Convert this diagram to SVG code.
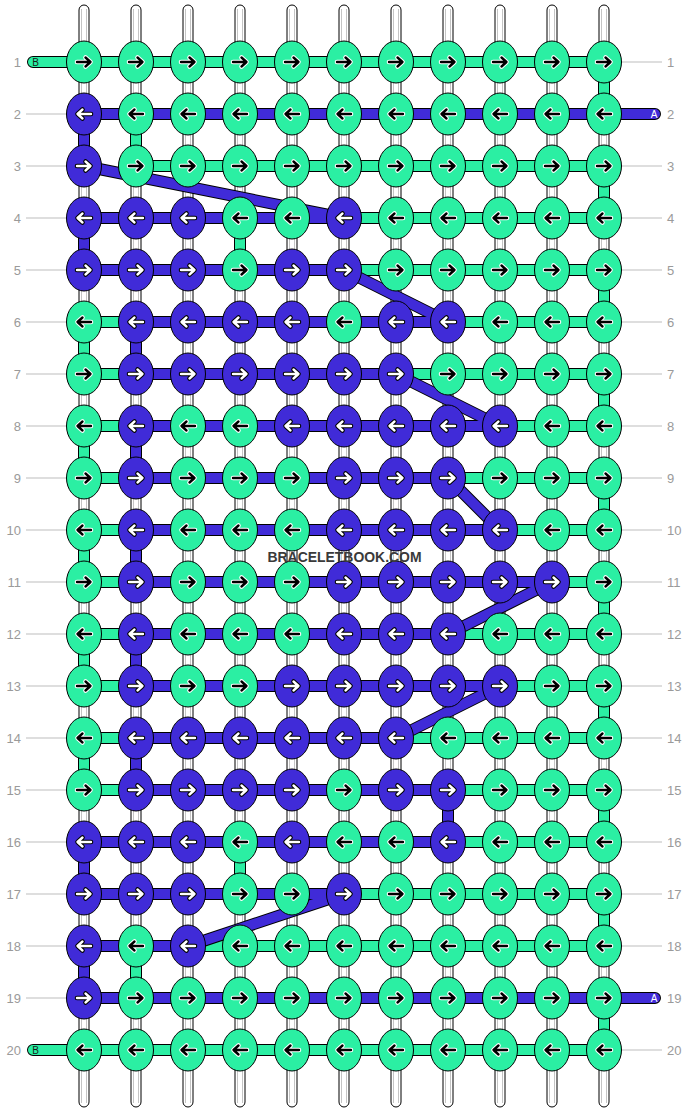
<svg xmlns="http://www.w3.org/2000/svg" xmlns:xlink="http://www.w3.org/1999/xlink" width="688" height="1112" viewBox="0 0 688 1112">
<style>
.str{fill:#fff;stroke:#000;stroke-width:1}
.sin{stroke:#c4c4c4;stroke-width:1}
.num{font-family:"Liberation Sans",Arial,sans-serif;font-size:13px;fill:#9a9a9a}
.gl{stroke:#bdbdbd;stroke-width:1}
.o{fill:none;stroke:#000;stroke-width:12;stroke-linejoin:round;stroke-linecap:round}
.tg{fill:none;stroke:#2BEFA3;stroke-width:10;stroke-linejoin:round;stroke-linecap:round}
.tb{fill:none;stroke:#402BD8;stroke-width:10;stroke-linejoin:round;stroke-linecap:round}
.kg{fill:#2BEFA3;stroke:#000;stroke-width:1}
.kb{fill:#402BD8;stroke:#000;stroke-width:1}
.ah{fill:none;stroke-width:4.6;stroke-linecap:round;stroke-linejoin:round}
.am{fill:none;stroke-width:2.4;stroke-linecap:round;stroke-linejoin:round}
.end{font-family:"Liberation Sans",Arial,sans-serif;font-size:10px;text-anchor:middle}
.wm{font-family:"Liberation Sans",Arial,sans-serif;font-size:15px;font-weight:bold;fill:#3a3a3a;text-anchor:middle}
</style>
<defs>
<path id="ar" d="M-7,0H6M1.5,-4.5L6.5,0L1.5,4.5"/>
<path id="al" d="M7,0H-6M-1.5,-4.5L-6.5,0L-1.5,4.5"/>
<g id="Gr"><ellipse class="kg" rx="17.5" ry="21"/><use href="#ar" class="ah" stroke="#fff"/><use href="#ar" class="am" stroke="#000"/></g>
<g id="Gl"><ellipse class="kg" rx="17.5" ry="21"/><use href="#al" class="ah" stroke="#fff"/><use href="#al" class="am" stroke="#000"/></g>
<g id="Br"><ellipse class="kb" rx="17.5" ry="21"/><use href="#ar" class="ah" stroke="#000"/><use href="#ar" class="am" stroke="#fff"/></g>
<g id="Bl"><ellipse class="kb" rx="17.5" ry="21"/><use href="#al" class="ah" stroke="#000"/><use href="#al" class="am" stroke="#fff"/></g>
<g id="S"><rect class="str" x="-5" y="5" width="10" height="1102" rx="5"/><line class="sin" x1="-2.5" y1="9" x2="-2.5" y2="1103"/><line class="sin" x1="2.5" y1="9" x2="2.5" y2="1103"/></g>
</defs>
<rect width="688" height="1112" fill="#fff"/>
<g id="labels">
<g class="gl">
<line x1="26" y1="114" x2="67" y2="114"/><line x1="26" y1="166" x2="67" y2="166"/><line x1="26" y1="218" x2="67" y2="218"/><line x1="26" y1="270" x2="67" y2="270"/><line x1="26" y1="322" x2="67" y2="322"/><line x1="26" y1="374" x2="67" y2="374"/><line x1="26" y1="426" x2="67" y2="426"/><line x1="26" y1="478" x2="67" y2="478"/><line x1="26" y1="530" x2="67" y2="530"/><line x1="26" y1="582" x2="67" y2="582"/><line x1="26" y1="634" x2="67" y2="634"/><line x1="26" y1="686" x2="67" y2="686"/><line x1="26" y1="738" x2="67" y2="738"/><line x1="26" y1="790" x2="67" y2="790"/><line x1="26" y1="842" x2="67" y2="842"/><line x1="26" y1="894" x2="67" y2="894"/><line x1="26" y1="946" x2="67" y2="946"/><line x1="26" y1="998" x2="67" y2="998"/>
<line x1="621" y1="62" x2="662" y2="62"/><line x1="621" y1="166" x2="662" y2="166"/><line x1="621" y1="218" x2="662" y2="218"/><line x1="621" y1="270" x2="662" y2="270"/><line x1="621" y1="322" x2="662" y2="322"/><line x1="621" y1="374" x2="662" y2="374"/><line x1="621" y1="426" x2="662" y2="426"/><line x1="621" y1="478" x2="662" y2="478"/><line x1="621" y1="530" x2="662" y2="530"/><line x1="621" y1="582" x2="662" y2="582"/><line x1="621" y1="634" x2="662" y2="634"/><line x1="621" y1="686" x2="662" y2="686"/><line x1="621" y1="738" x2="662" y2="738"/><line x1="621" y1="790" x2="662" y2="790"/><line x1="621" y1="842" x2="662" y2="842"/><line x1="621" y1="894" x2="662" y2="894"/><line x1="621" y1="946" x2="662" y2="946"/><line x1="621" y1="1050" x2="662" y2="1050"/>
</g>
<g class="num" text-anchor="end">
<text x="21" y="67">1</text><text x="21" y="119">2</text><text x="21" y="171">3</text><text x="21" y="223">4</text><text x="21" y="275">5</text><text x="21" y="327">6</text><text x="21" y="379">7</text><text x="21" y="431">8</text><text x="21" y="483">9</text><text x="21" y="535">10</text><text x="21" y="587">11</text><text x="21" y="639">12</text><text x="21" y="691">13</text><text x="21" y="743">14</text><text x="21" y="795">15</text><text x="21" y="847">16</text><text x="21" y="899">17</text><text x="21" y="951">18</text><text x="21" y="1003">19</text><text x="21" y="1055">20</text>
</g>
<g class="num">
<text x="667" y="67">1</text><text x="667" y="119">2</text><text x="667" y="171">3</text><text x="667" y="223">4</text><text x="667" y="275">5</text><text x="667" y="327">6</text><text x="667" y="379">7</text><text x="667" y="431">8</text><text x="667" y="483">9</text><text x="667" y="535">10</text><text x="667" y="587">11</text><text x="667" y="639">12</text><text x="667" y="691">13</text><text x="667" y="743">14</text><text x="667" y="795">15</text><text x="667" y="847">16</text><text x="667" y="899">17</text><text x="667" y="951">18</text><text x="667" y="1003">19</text><text x="667" y="1055">20</text>
</g>
</g>
<g id="strings">
<use href="#S" x="84"/><use href="#S" x="136"/><use href="#S" x="188"/><use href="#S" x="240"/><use href="#S" x="292"/><use href="#S" x="344"/><use href="#S" x="396"/><use href="#S" x="448"/><use href="#S" x="500"/><use href="#S" x="552"/><use href="#S" x="604"/>
</g>
<g id="connectors">
<polyline id="threadB-outline" class="o" points="33,62 604,62 604,114 136,114 136,166 604,166 604,218 240,218 240,270 604,270 604,322 84,322 84,374 604,374 604,426 84,426 84,478 604,478 604,530 84,530 84,582 604,582 604,634 84,634 84,686 604,686 604,738 84,738 84,790 604,790 604,842 240,842 240,894 604,894 604,946 136,946 136,998 604,998 604,1050 33,1050"/>
<polyline id="threadB" class="tg" points="33,62 604,62 604,114 136,114 136,166 604,166 604,218 240,218 240,270 604,270 604,322 84,322 84,374 604,374 604,426 84,426 84,478 604,478 604,530 84,530 84,582 604,582 604,634 84,634 84,686 604,686 604,738 84,738 84,790 604,790 604,842 240,842 240,894 604,894 604,946 136,946 136,998 604,998 604,1050 33,1050"/>
<polyline id="threadA-outline" class="o" points="655,114 84,114 84,166 344,218 84,218 84,270 344,270 448,322 136,322 136,374 396,374 500,426 136,426 136,478 448,478 500,530 136,530 136,582 552,582 448,634 136,634 136,686 500,686 396,738 136,738 136,790 448,790 448,842 84,842 84,894 344,894 188,946 84,946 84,998 655,998"/>
<polyline id="threadA" class="tb" points="655,114 84,114 84,166 344,218 84,218 84,270 344,270 448,322 136,322 136,374 396,374 500,426 136,426 136,478 448,478 500,530 136,530 136,582 552,582 448,634 136,634 136,686 500,686 396,738 136,738 136,790 448,790 448,842 84,842 84,894 344,894 188,946 84,946 84,998 655,998"/>
<text class="end" x="35.5" y="65.5" fill="#1a1a1a">B</text>
<text class="end" x="35.5" y="1053.5" fill="#1a1a1a">B</text>
<text class="end" x="654" y="117.5" fill="#fff">A</text>
<text class="end" x="654" y="1001.5" fill="#fff">A</text>
</g>
<g id="knots">
<g id="k1_1"><use href="#Gr" x="84" y="62"/></g><g id="k1_2"><use href="#Gr" x="136" y="62"/></g><g id="k1_3"><use href="#Gr" x="188" y="62"/></g><g id="k1_4"><use href="#Gr" x="240" y="62"/></g><g id="k1_5"><use href="#Gr" x="292" y="62"/></g><g id="k1_6"><use href="#Gr" x="344" y="62"/></g><g id="k1_7"><use href="#Gr" x="396" y="62"/></g><g id="k1_8"><use href="#Gr" x="448" y="62"/></g><g id="k1_9"><use href="#Gr" x="500" y="62"/></g><g id="k1_10"><use href="#Gr" x="552" y="62"/></g><g id="k1_11"><use href="#Gr" x="604" y="62"/></g>
<g id="k2_1"><use href="#Bl" x="84" y="114"/></g><g id="k2_2"><use href="#Gl" x="136" y="114"/></g><g id="k2_3"><use href="#Gl" x="188" y="114"/></g><g id="k2_4"><use href="#Gl" x="240" y="114"/></g><g id="k2_5"><use href="#Gl" x="292" y="114"/></g><g id="k2_6"><use href="#Gl" x="344" y="114"/></g><g id="k2_7"><use href="#Gl" x="396" y="114"/></g><g id="k2_8"><use href="#Gl" x="448" y="114"/></g><g id="k2_9"><use href="#Gl" x="500" y="114"/></g><g id="k2_10"><use href="#Gl" x="552" y="114"/></g><g id="k2_11"><use href="#Gl" x="604" y="114"/></g>
<g id="k3_1"><use href="#Br" x="84" y="166"/></g><g id="k3_2"><use href="#Gr" x="136" y="166"/></g><g id="k3_3"><use href="#Gr" x="188" y="166"/></g><g id="k3_4"><use href="#Gr" x="240" y="166"/></g><g id="k3_5"><use href="#Gr" x="292" y="166"/></g><g id="k3_6"><use href="#Gr" x="344" y="166"/></g><g id="k3_7"><use href="#Gr" x="396" y="166"/></g><g id="k3_8"><use href="#Gr" x="448" y="166"/></g><g id="k3_9"><use href="#Gr" x="500" y="166"/></g><g id="k3_10"><use href="#Gr" x="552" y="166"/></g><g id="k3_11"><use href="#Gr" x="604" y="166"/></g>
<g id="k4_1"><use href="#Bl" x="84" y="218"/></g><g id="k4_2"><use href="#Bl" x="136" y="218"/></g><g id="k4_3"><use href="#Bl" x="188" y="218"/></g><g id="k4_4"><use href="#Gl" x="240" y="218"/></g><g id="k4_5"><use href="#Gl" x="292" y="218"/></g><g id="k4_6"><use href="#Bl" x="344" y="218"/></g><g id="k4_7"><use href="#Gl" x="396" y="218"/></g><g id="k4_8"><use href="#Gl" x="448" y="218"/></g><g id="k4_9"><use href="#Gl" x="500" y="218"/></g><g id="k4_10"><use href="#Gl" x="552" y="218"/></g><g id="k4_11"><use href="#Gl" x="604" y="218"/></g>
<g id="k5_1"><use href="#Br" x="84" y="270"/></g><g id="k5_2"><use href="#Br" x="136" y="270"/></g><g id="k5_3"><use href="#Br" x="188" y="270"/></g><g id="k5_4"><use href="#Gr" x="240" y="270"/></g><g id="k5_5"><use href="#Br" x="292" y="270"/></g><g id="k5_6"><use href="#Br" x="344" y="270"/></g><g id="k5_7"><use href="#Gr" x="396" y="270"/></g><g id="k5_8"><use href="#Gr" x="448" y="270"/></g><g id="k5_9"><use href="#Gr" x="500" y="270"/></g><g id="k5_10"><use href="#Gr" x="552" y="270"/></g><g id="k5_11"><use href="#Gr" x="604" y="270"/></g>
<g id="k6_1"><use href="#Gl" x="84" y="322"/></g><g id="k6_2"><use href="#Bl" x="136" y="322"/></g><g id="k6_3"><use href="#Bl" x="188" y="322"/></g><g id="k6_4"><use href="#Bl" x="240" y="322"/></g><g id="k6_5"><use href="#Bl" x="292" y="322"/></g><g id="k6_6"><use href="#Gl" x="344" y="322"/></g><g id="k6_7"><use href="#Bl" x="396" y="322"/></g><g id="k6_8"><use href="#Bl" x="448" y="322"/></g><g id="k6_9"><use href="#Gl" x="500" y="322"/></g><g id="k6_10"><use href="#Gl" x="552" y="322"/></g><g id="k6_11"><use href="#Gl" x="604" y="322"/></g>
<g id="k7_1"><use href="#Gr" x="84" y="374"/></g><g id="k7_2"><use href="#Br" x="136" y="374"/></g><g id="k7_3"><use href="#Br" x="188" y="374"/></g><g id="k7_4"><use href="#Br" x="240" y="374"/></g><g id="k7_5"><use href="#Br" x="292" y="374"/></g><g id="k7_6"><use href="#Br" x="344" y="374"/></g><g id="k7_7"><use href="#Br" x="396" y="374"/></g><g id="k7_8"><use href="#Gr" x="448" y="374"/></g><g id="k7_9"><use href="#Gr" x="500" y="374"/></g><g id="k7_10"><use href="#Gr" x="552" y="374"/></g><g id="k7_11"><use href="#Gr" x="604" y="374"/></g>
<g id="k8_1"><use href="#Gl" x="84" y="426"/></g><g id="k8_2"><use href="#Bl" x="136" y="426"/></g><g id="k8_3"><use href="#Gl" x="188" y="426"/></g><g id="k8_4"><use href="#Gl" x="240" y="426"/></g><g id="k8_5"><use href="#Bl" x="292" y="426"/></g><g id="k8_6"><use href="#Bl" x="344" y="426"/></g><g id="k8_7"><use href="#Bl" x="396" y="426"/></g><g id="k8_8"><use href="#Bl" x="448" y="426"/></g><g id="k8_9"><use href="#Bl" x="500" y="426"/></g><g id="k8_10"><use href="#Gl" x="552" y="426"/></g><g id="k8_11"><use href="#Gl" x="604" y="426"/></g>
<g id="k9_1"><use href="#Gr" x="84" y="478"/></g><g id="k9_2"><use href="#Br" x="136" y="478"/></g><g id="k9_3"><use href="#Gr" x="188" y="478"/></g><g id="k9_4"><use href="#Gr" x="240" y="478"/></g><g id="k9_5"><use href="#Gr" x="292" y="478"/></g><g id="k9_6"><use href="#Br" x="344" y="478"/></g><g id="k9_7"><use href="#Br" x="396" y="478"/></g><g id="k9_8"><use href="#Br" x="448" y="478"/></g><g id="k9_9"><use href="#Gr" x="500" y="478"/></g><g id="k9_10"><use href="#Gr" x="552" y="478"/></g><g id="k9_11"><use href="#Gr" x="604" y="478"/></g>
<g id="k10_1"><use href="#Gl" x="84" y="530"/></g><g id="k10_2"><use href="#Bl" x="136" y="530"/></g><g id="k10_3"><use href="#Gl" x="188" y="530"/></g><g id="k10_4"><use href="#Gl" x="240" y="530"/></g><g id="k10_5"><use href="#Gl" x="292" y="530"/></g><g id="k10_6"><use href="#Bl" x="344" y="530"/></g><g id="k10_7"><use href="#Bl" x="396" y="530"/></g><g id="k10_8"><use href="#Bl" x="448" y="530"/></g><g id="k10_9"><use href="#Bl" x="500" y="530"/></g><g id="k10_10"><use href="#Gl" x="552" y="530"/></g><g id="k10_11"><use href="#Gl" x="604" y="530"/></g>
<g id="k11_1"><use href="#Gr" x="84" y="582"/></g><g id="k11_2"><use href="#Br" x="136" y="582"/></g><g id="k11_3"><use href="#Gr" x="188" y="582"/></g><g id="k11_4"><use href="#Gr" x="240" y="582"/></g><g id="k11_5"><use href="#Gr" x="292" y="582"/></g><g id="k11_6"><use href="#Br" x="344" y="582"/></g><g id="k11_7"><use href="#Br" x="396" y="582"/></g><g id="k11_8"><use href="#Br" x="448" y="582"/></g><g id="k11_9"><use href="#Br" x="500" y="582"/></g><g id="k11_10"><use href="#Br" x="552" y="582"/></g><g id="k11_11"><use href="#Gr" x="604" y="582"/></g>
<g id="k12_1"><use href="#Gl" x="84" y="634"/></g><g id="k12_2"><use href="#Bl" x="136" y="634"/></g><g id="k12_3"><use href="#Gl" x="188" y="634"/></g><g id="k12_4"><use href="#Gl" x="240" y="634"/></g><g id="k12_5"><use href="#Gl" x="292" y="634"/></g><g id="k12_6"><use href="#Bl" x="344" y="634"/></g><g id="k12_7"><use href="#Bl" x="396" y="634"/></g><g id="k12_8"><use href="#Bl" x="448" y="634"/></g><g id="k12_9"><use href="#Gl" x="500" y="634"/></g><g id="k12_10"><use href="#Gl" x="552" y="634"/></g><g id="k12_11"><use href="#Gl" x="604" y="634"/></g>
<g id="k13_1"><use href="#Gr" x="84" y="686"/></g><g id="k13_2"><use href="#Br" x="136" y="686"/></g><g id="k13_3"><use href="#Gr" x="188" y="686"/></g><g id="k13_4"><use href="#Gr" x="240" y="686"/></g><g id="k13_5"><use href="#Br" x="292" y="686"/></g><g id="k13_6"><use href="#Br" x="344" y="686"/></g><g id="k13_7"><use href="#Br" x="396" y="686"/></g><g id="k13_8"><use href="#Br" x="448" y="686"/></g><g id="k13_9"><use href="#Br" x="500" y="686"/></g><g id="k13_10"><use href="#Gr" x="552" y="686"/></g><g id="k13_11"><use href="#Gr" x="604" y="686"/></g>
<g id="k14_1"><use href="#Gl" x="84" y="738"/></g><g id="k14_2"><use href="#Bl" x="136" y="738"/></g><g id="k14_3"><use href="#Bl" x="188" y="738"/></g><g id="k14_4"><use href="#Bl" x="240" y="738"/></g><g id="k14_5"><use href="#Bl" x="292" y="738"/></g><g id="k14_6"><use href="#Bl" x="344" y="738"/></g><g id="k14_7"><use href="#Bl" x="396" y="738"/></g><g id="k14_8"><use href="#Gl" x="448" y="738"/></g><g id="k14_9"><use href="#Gl" x="500" y="738"/></g><g id="k14_10"><use href="#Gl" x="552" y="738"/></g><g id="k14_11"><use href="#Gl" x="604" y="738"/></g>
<g id="k15_1"><use href="#Gr" x="84" y="790"/></g><g id="k15_2"><use href="#Br" x="136" y="790"/></g><g id="k15_3"><use href="#Br" x="188" y="790"/></g><g id="k15_4"><use href="#Br" x="240" y="790"/></g><g id="k15_5"><use href="#Br" x="292" y="790"/></g><g id="k15_6"><use href="#Gr" x="344" y="790"/></g><g id="k15_7"><use href="#Br" x="396" y="790"/></g><g id="k15_8"><use href="#Br" x="448" y="790"/></g><g id="k15_9"><use href="#Gr" x="500" y="790"/></g><g id="k15_10"><use href="#Gr" x="552" y="790"/></g><g id="k15_11"><use href="#Gr" x="604" y="790"/></g>
<g id="k16_1"><use href="#Bl" x="84" y="842"/></g><g id="k16_2"><use href="#Bl" x="136" y="842"/></g><g id="k16_3"><use href="#Bl" x="188" y="842"/></g><g id="k16_4"><use href="#Gl" x="240" y="842"/></g><g id="k16_5"><use href="#Bl" x="292" y="842"/></g><g id="k16_6"><use href="#Gl" x="344" y="842"/></g><g id="k16_7"><use href="#Gl" x="396" y="842"/></g><g id="k16_8"><use href="#Bl" x="448" y="842"/></g><g id="k16_9"><use href="#Gl" x="500" y="842"/></g><g id="k16_10"><use href="#Gl" x="552" y="842"/></g><g id="k16_11"><use href="#Gl" x="604" y="842"/></g>
<g id="k17_1"><use href="#Br" x="84" y="894"/></g><g id="k17_2"><use href="#Br" x="136" y="894"/></g><g id="k17_3"><use href="#Br" x="188" y="894"/></g><g id="k17_4"><use href="#Gr" x="240" y="894"/></g><g id="k17_5"><use href="#Gr" x="292" y="894"/></g><g id="k17_6"><use href="#Br" x="344" y="894"/></g><g id="k17_7"><use href="#Gr" x="396" y="894"/></g><g id="k17_8"><use href="#Gr" x="448" y="894"/></g><g id="k17_9"><use href="#Gr" x="500" y="894"/></g><g id="k17_10"><use href="#Gr" x="552" y="894"/></g><g id="k17_11"><use href="#Gr" x="604" y="894"/></g>
<g id="k18_1"><use href="#Bl" x="84" y="946"/></g><g id="k18_2"><use href="#Gl" x="136" y="946"/></g><g id="k18_3"><use href="#Bl" x="188" y="946"/></g><g id="k18_4"><use href="#Gl" x="240" y="946"/></g><g id="k18_5"><use href="#Gl" x="292" y="946"/></g><g id="k18_6"><use href="#Gl" x="344" y="946"/></g><g id="k18_7"><use href="#Gl" x="396" y="946"/></g><g id="k18_8"><use href="#Gl" x="448" y="946"/></g><g id="k18_9"><use href="#Gl" x="500" y="946"/></g><g id="k18_10"><use href="#Gl" x="552" y="946"/></g><g id="k18_11"><use href="#Gl" x="604" y="946"/></g>
<g id="k19_1"><use href="#Br" x="84" y="998"/></g><g id="k19_2"><use href="#Gr" x="136" y="998"/></g><g id="k19_3"><use href="#Gr" x="188" y="998"/></g><g id="k19_4"><use href="#Gr" x="240" y="998"/></g><g id="k19_5"><use href="#Gr" x="292" y="998"/></g><g id="k19_6"><use href="#Gr" x="344" y="998"/></g><g id="k19_7"><use href="#Gr" x="396" y="998"/></g><g id="k19_8"><use href="#Gr" x="448" y="998"/></g><g id="k19_9"><use href="#Gr" x="500" y="998"/></g><g id="k19_10"><use href="#Gr" x="552" y="998"/></g><g id="k19_11"><use href="#Gr" x="604" y="998"/></g>
<g id="k20_1"><use href="#Gl" x="84" y="1050"/></g><g id="k20_2"><use href="#Gl" x="136" y="1050"/></g><g id="k20_3"><use href="#Gl" x="188" y="1050"/></g><g id="k20_4"><use href="#Gl" x="240" y="1050"/></g><g id="k20_5"><use href="#Gl" x="292" y="1050"/></g><g id="k20_6"><use href="#Gl" x="344" y="1050"/></g><g id="k20_7"><use href="#Gl" x="396" y="1050"/></g><g id="k20_8"><use href="#Gl" x="448" y="1050"/></g><g id="k20_9"><use href="#Gl" x="500" y="1050"/></g><g id="k20_10"><use href="#Gl" x="552" y="1050"/></g><g id="k20_11"><use href="#Gl" x="604" y="1050"/></g>
</g>
<text class="wm" x="344.5" y="561.5" textLength="154" lengthAdjust="spacingAndGlyphs">BRACELETBOOK.COM</text>
</svg>
